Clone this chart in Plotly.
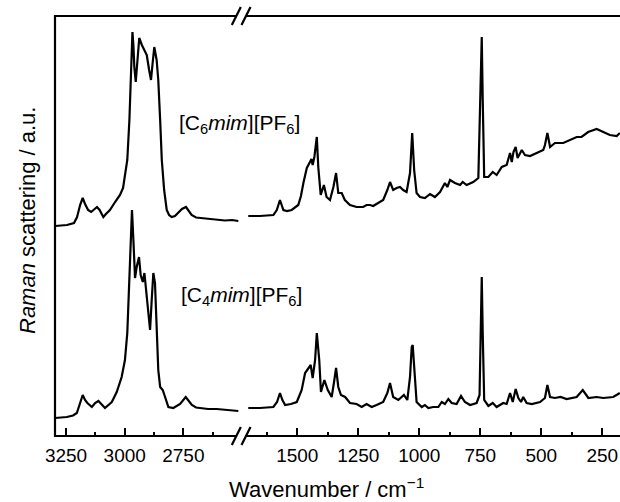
import plotly.graph_objects as go

# ---------------- data ----------------
# high-wavenumber segment (C-H stretching region)
wn_hi_c6 = [3297, 3246, 3216, 3203, 3190, 3179, 3169, 3156, 3143, 3129, 3118, 3107, 3091, 3080,
            3063, 3041, 3020, 3007, 2999, 2989, 2980, 2974, 2967, 2963, 2959, 2953, 2946, 2938,
            2927, 2918, 2906, 2896, 2888, 2881, 2874, 2864, 2857, 2849, 2842, 2832, 2821, 2811,
            2800, 2786, 2772, 2756, 2739, 2729, 2715, 2696, 2679, 2645, 2608, 2573, 2543, 2516]
int_hi_c6 = [210, 211, 213, 219, 231, 238, 232, 226, 224, 227, 229, 226, 219, 222,
             226, 234, 241, 248, 259, 276, 316, 366, 404, 391, 369, 354, 379, 398,
             391, 386, 381, 366, 356, 373, 389, 376, 356, 316, 276, 246, 226, 221,
             219, 220, 223, 227, 229, 226, 221, 218.5, 218, 217, 216, 215.5, 216, 215]

wn_hi_c4 = [3297, 3247, 3220, 3204, 3190, 3179, 3169, 3159, 3140, 3126, 3112, 3105, 3084, 3055,
            3034, 3013, 2999, 2989, 2982, 2974, 2969, 2963, 2956, 2949, 2939, 2932, 2923, 2916,
            2909, 2899, 2892, 2885, 2878, 2871, 2864, 2857, 2849, 2838, 2828, 2814, 2793, 2764,
            2740, 2728, 2714, 2696, 2679, 2645, 2608, 2560, 2516]
int_hi_c4 = [18, 19, 20.5, 23, 33, 41, 36, 33, 29, 33, 35, 33, 28, 34,
             44, 59, 76, 103, 153, 199, 226, 196, 158, 169, 179, 161, 154, 163,
             146, 116, 106, 136, 163, 153, 103, 66, 49, 46, 39, 29, 28, 32,
             39, 35, 31, 28.5, 28, 27, 27, 26, 25]

# low-wavenumber segment (fingerprint region)
wn_lo_c6 = [1701, 1653, 1598, 1584, 1571, 1557, 1542, 1523, 1496, 1485, 1475, 1461, 1448, 1442,
            1437, 1430, 1420, 1414, 1404, 1397, 1391, 1380, 1366, 1352, 1341, 1332, 1318, 1305,
            1284, 1257, 1230, 1216, 1202, 1189, 1175, 1148, 1131, 1120, 1107, 1093, 1079, 1066,
            1052, 1038, 1029, 1021, 1011, 997, 977, 956, 936, 915, 895, 885, 874, 854,
            833, 822, 806, 779, 758, 751, 744, 740, 734, 717, 699, 683, 662, 642,
            628, 621, 614, 605, 597, 580, 567, 546, 519, 492, 485, 475, 464, 444,
            410, 382, 355, 335, 308, 273, 246, 219, 191, 178]
int_lo_c6 = [220, 220, 221, 226, 236, 226, 225, 226, 231, 240, 253, 268, 274, 277,
             271, 279, 299, 269, 241, 246, 251, 239, 236, 249, 263, 243, 243, 236,
             231, 229, 229, 231, 231, 230, 232, 236, 246, 254, 246, 248, 249, 246,
             244, 263, 303, 266, 243, 239, 238, 242, 239, 244, 253, 249, 256, 253,
             251, 254, 251, 254, 258, 336, 399, 336, 259, 259, 264, 261, 269, 271,
             283, 274, 284, 289, 278, 286, 281, 280, 283, 286, 291, 303, 289, 293,
             293, 296, 299, 299, 304, 307, 304, 301, 300, 303]

wn_lo_c4 = [1701, 1653, 1598, 1583, 1571, 1561, 1550, 1526, 1502, 1482, 1468, 1455, 1445, 1437,
            1427, 1420, 1410, 1403, 1389, 1375, 1359, 1350, 1341, 1332, 1321, 1304, 1284, 1257,
            1236, 1216, 1195, 1175, 1148, 1131, 1120, 1107, 1086, 1063, 1049, 1038, 1031, 1027,
            1020, 1011, 990, 977, 963, 943, 922, 908, 895, 881, 867, 847, 829, 813,
            792, 765, 753, 749, 744, 740, 734, 717, 699, 683, 656, 642, 628, 617,
            605, 594, 583, 574, 560, 539, 505, 485, 475, 464, 444, 421, 396, 355,
            330, 307, 273, 246, 205, 178]
int_lo_c4 = [28, 28, 29, 34, 43, 36, 31, 32, 34, 46, 63, 68, 71, 58,
             76, 103, 76, 44, 56, 46, 39, 53, 68, 49, 41, 39, 33, 32,
             29, 32, 29, 31, 34, 43, 53, 39, 36, 41, 36, 59, 89, 91,
             63, 34, 29, 31, 28, 29, 29, 34, 32, 37, 33, 32, 40, 34,
             31, 33, 41, 99, 159, 103, 36, 30, 33, 29, 33, 32, 43, 34,
             47, 38, 34, 39, 33, 32, 34, 38, 51, 39, 38, 39, 37, 39,
             46, 38, 39, 38, 39, 43]

hi_major = [3250, 3000, 2750]
hi_minor = [3125, 2875, 2625]
lo_major = [1500, 1250, 1000, 750, 500, 250]
lo_minor = [1625, 1375, 1125, 875, 625, 375]

# ---------------- layout geometry ----------------
W, H = 620, 502
ML, MR, MT, MB = 55, 0, 16, 66
PW, PH = W - ML - MR, H - MT - MB
BREAK_X = 243  # pixel position of the axis break


def px(x):
    return (x - ML) / PW


def py(y):
    return (H - MB - y) / PH


FONT = "Liberation Sans, Arial, Helvetica, sans-serif"
LW = 2.2

fig = go.Figure()
for xs, ys, ax in [(wn_hi_c6, int_hi_c6, "x"), (wn_hi_c4, int_hi_c4, "x"),
                   (wn_lo_c6, int_lo_c6, "x2"), (wn_lo_c4, int_lo_c4, "x2")]:
    fig.add_trace(go.Scatter(x=xs, y=ys, xaxis=ax, yaxis="y", mode="lines",
                             line=dict(color="black", width=LW), showlegend=False,
                             hoverinfo="skip"))

common_x = dict(showgrid=False, zeroline=False, showline=False, ticks="inside",
                ticklen=8, tickwidth=1.6, tickcolor="black", ticklabelstandoff=6,
                tickfont=dict(family=FONT, size=19, color="black"), anchor="y")

fig.update_layout(
    width=W, height=H,
    margin=dict(l=ML, r=MR, t=MT, b=MB, pad=0),
    paper_bgcolor="white", plot_bgcolor="white",
    xaxis=dict(domain=[0, px(BREAK_X)], range=[3297, 2496], tickvals=hi_major,
               minor=dict(tickvals=hi_minor, ticklen=4, tickwidth=1.6, tickcolor="black",
                          ticks="inside"), **common_x),
    xaxis2=dict(domain=[px(BREAK_X), 1], range=[1722.5, 177.4], tickvals=lo_major,
                minor=dict(tickvals=lo_minor, ticklen=4, tickwidth=1.6, tickcolor="black",
                           ticks="inside"), **common_x),
    yaxis=dict(range=[0, 420], showgrid=False, zeroline=False, showline=False,
               showticklabels=False, ticks=""),
)

# frame with break marks
g1, g2 = 236.3, 246.0  # slash centres (px)
shapes = []
for yy in (0, 1):
    shapes.append(dict(type="line", xref="paper", yref="paper", x0=0, x1=px(g1), y0=yy, y1=yy,
                       line=dict(color="black", width=LW)))
    shapes.append(dict(type="line", xref="paper", yref="paper", x0=px(g2), x1=1.01, y0=yy, y1=yy,
                       line=dict(color="black", width=LW)))
    for c in (g1, g2):
        shapes.append(dict(type="line", xref="paper", yref="paper",
                           x0=px(c - 4.5), x1=px(c + 4.5), y0=yy - 9 / PH, y1=yy + 9 / PH,
                           line=dict(color="black", width=LW)))
shapes.append(dict(type="line", xref="paper", yref="paper", x0=0, x1=0, y0=-1 / PH, y1=1 + 1 / PH,
                   line=dict(color="black", width=LW)))
fig.update_layout(shapes=shapes)

ann = [
    dict(text="[C<sub>6</sub><i>mim</i>][PF<sub>6</sub>]", x=px(177), y=py(124),
         xanchor="left", yanchor="middle", font=dict(family=FONT, size=21, color="black")),
    dict(text="[C<sub>4</sub><i>mim</i>][PF<sub>6</sub>]", x=px(179), y=py(296),
         xanchor="left", yanchor="middle", font=dict(family=FONT, size=21, color="black")),
    dict(text="Wavenumber / cm<sup>−1</sup>", x=px(326), y=py(488),
         xanchor="center", yanchor="middle", font=dict(family=FONT, size=22, color="black")),
    dict(text="<i>Raman</i> scattering / a.u.", x=px(27), y=py(221), textangle=-90,
         xanchor="center", yanchor="middle", font=dict(family=FONT, size=22, color="black")),
]
for a in ann:
    a.update(xref="paper", yref="paper", showarrow=False)
fig.update_layout(annotations=ann)

fig.write_html("out.html", config={"displayModeBar": False},
               post_script="document.body.style.margin='0';document.body.style.overflow='hidden';")
